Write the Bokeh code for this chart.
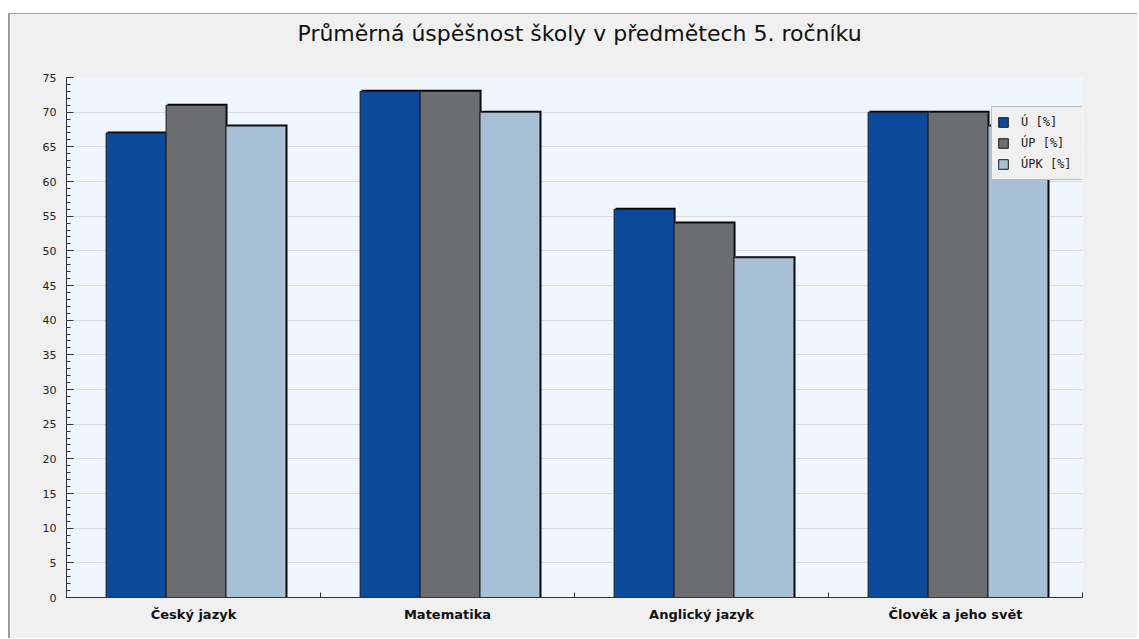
from bokeh.plotting import figure
from bokeh.models import (ColumnDataSource, Range1d, FixedTicker, SingleIntervalTicker,
                          Legend, LegendItem, Title)
from bokeh.transform import dodge
from bokeh.embed import file_html
from bokeh.resources import INLINE

# ---- data ----
categories = ["Český jazyk", "Matematika", "Anglický jazyk", "Člověk a jeho svět"]
u_vals = [67, 73, 56, 70]      # Ú [%]
up_vals = [71, 73, 54, 70]     # ÚP [%]
upk_vals = [68, 70, 49, 68]    # ÚPK [%]
series_names = ["Ú [%]", "ÚP [%]", "ÚPK [%]"]
title_text = "Průměrná úspěšnost školy v předmětech 5. ročníku"

colors = ["#0c4a9c", "#6c6d71", "#a8c0d6"]
offsets = [-0.226, 0.01, 0.246]
bar_w = 0.236

xs = [i + 0.5 for i in range(len(categories))]
src = ColumnDataSource(dict(x=xs, u=u_vals, up=up_vals, upk=upk_vals))

p = figure(width=1129, height=625, output_backend="svg", toolbar_location=None,
           x_range=Range1d(0, len(categories)), y_range=Range1d(0, 75),
           min_border_left=56, min_border_right=57, min_border_top=63, min_border_bottom=42)
p.styles = {"margin-top": "13px", "margin-left": "8px", "border-top": "1px solid #9a9a9a",
            "border-left": "2px solid #9a9a9a"}

p.background_fill_color = "#eff6fe"
p.border_fill_color = "#f0f0f0"
p.outline_line_color = None

# title (pushed away from the frame by an empty spacer title)
p.title.text = title_text
p.title.align = "left"
p.title.offset = 231
p.title.vertical_align = "top"
p.title.standoff = 2
p.title.text_font = "DejaVu Sans"
p.title.text_font_size = "22px"
p.title.text_font_style = "normal"
p.title.text_color = "#111111"
spacer = Title(text=" ", text_font_size="10px", standoff=16)
p.add_layout(spacer, "above")

# grid
p.xgrid.grid_line_color = None
p.ygrid.grid_line_color = "#dcdcdc"
p.ygrid.grid_line_width = 1

# y axis
yax = p.yaxis[0]
yax.ticker = SingleIntervalTicker(interval=5, num_minor_ticks=5)
yax.axis_line_color = "#333333"
yax.major_tick_line_color = "#333333"
yax.minor_tick_line_color = "#333333"
yax.major_tick_in = 7
yax.major_tick_out = 0
yax.minor_tick_in = 4
yax.minor_tick_out = 0
yax.major_label_standoff = 10
yax.major_label_text_font = "DejaVu Sans"
yax.major_label_text_font_size = "11px"
yax.major_label_text_color = "#222222"

# x axis: labels at category centres, ticks at boundaries (minor ticks)
xax = p.xaxis[0]
xax.ticker = FixedTicker(ticks=xs, minor_ticks=list(range(len(categories) + 1)))
xax.major_label_overrides = {x: c for x, c in zip(xs, categories)}
xax.axis_line_color = "#333333"
xax.major_tick_line_color = None
xax.minor_tick_line_color = "#333333"
xax.minor_tick_in = 5
xax.minor_tick_out = 0
xax.major_label_standoff = 3
xax.major_label_text_font = "DejaVu Sans"
xax.major_label_text_font_style = "bold"
xax.major_label_text_font_size = "13px"
xax.major_label_text_color = "#111111"

# bars with a small dark shadow (top/right)
fields = ["u", "up", "upk"]
renderers = []
for f, c, off in zip(fields, colors, offsets):
    p.vbar(x=dodge("x", off + 0.006), top=dodge(f, 0.22), width=bar_w, bottom=0,
           source=src, fill_color="#000000", line_color=None)
    r = p.vbar(x=dodge("x", off), top=f, width=bar_w, bottom=0, source=src,
               fill_color=c, line_color="#1a1a1a", line_width=1)
    renderers.append(r)

legend = Legend(items=[LegendItem(label=n, renderers=[r]) for n, r in zip(series_names, renderers)],
                location=(925, 417), orientation="vertical",
                background_fill_color="#f0f0f0", background_fill_alpha=1,
                border_line_color="#8a8a8a", border_line_width=1,
                label_text_font="DejaVu Sans Mono", label_text_font_size="12px",
                label_text_color="#222222", label_width=56,
                glyph_width=12, glyph_height=12, label_height=20, label_standoff=12,
                spacing=1, padding=5, margin=0)
p.add_layout(legend, "center")

open("out.html", "w").write(file_html(p, INLINE))
